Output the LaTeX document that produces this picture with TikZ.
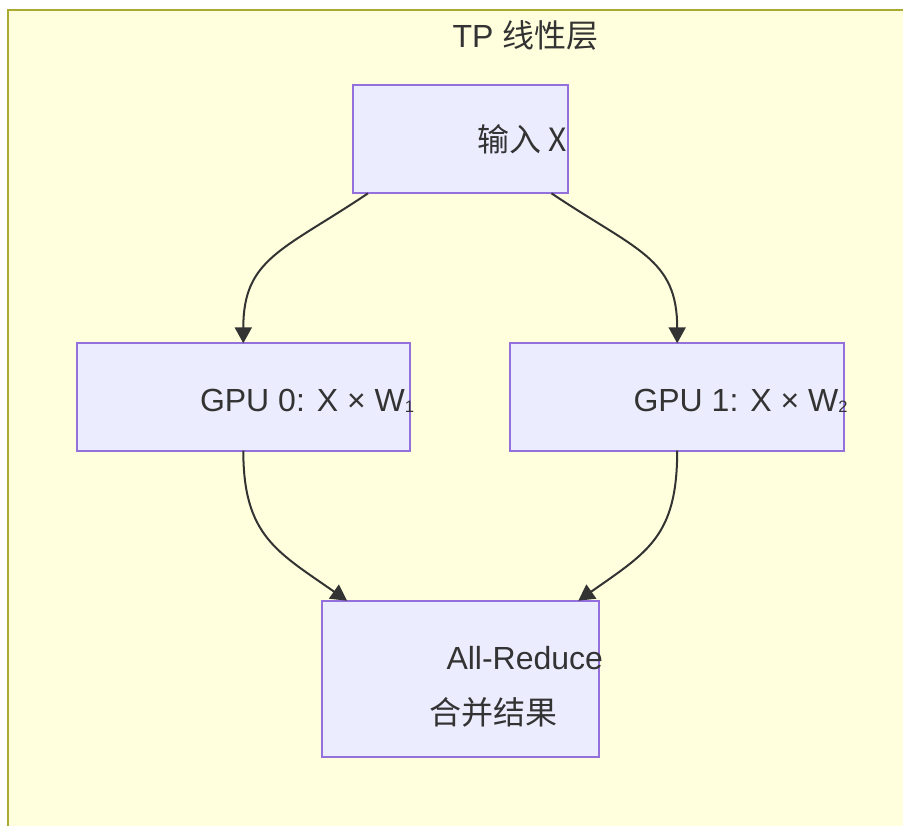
\documentclass[tikz,border=0pt]{standalone}
\usepackage{fontspec}
\setmainfont{Liberation Sans}
\newfontfamily\cjk{Noto Sans CJK SC}
\usetikzlibrary{arrows.meta}

\definecolor{clusterfill}{HTML}{FFFFDE}
\definecolor{clusterline}{HTML}{AAAA33}
\definecolor{boxfill}{HTML}{ECECFF}
\definecolor{boxline}{HTML}{9370DB}
\definecolor{ink}{HTML}{333333}

\newcommand{\sub}[1]{{\fontsize{16.5}{16.5}\selectfont\raisebox{-1.5pt}{#1}}}

\tikzset{
  procbox/.style={draw=boxline, fill=boxfill, line width=2pt,
    rectangle, inner sep=0pt, outer sep=0pt},
  label/.style={anchor=base west, inner sep=0pt, outer sep=0pt, text=ink,
    font=\fontsize{32}{38}\selectfont},
  flow/.style={draw=ink, line width=2pt,
    -{Triangle[length=16pt,width=17pt]}},
}

\begin{document}
\begin{tikzpicture}[x=1pt, y=-1pt]
  \useasboundingbox (0,0) rectangle (903,826);
  \clip (0,0) rectangle (903,826);

  % subgraph frame
  \draw[fill=clusterfill, draw=clusterline, line width=2pt]
    (7.5,10.5) rectangle (930,860);
  \node[label] (title) at (452.5,48) {TP \cjk{线性层}};

  % process boxes
  \node[procbox, minimum width=214.4pt, minimum height=108.3pt] (inp) at (460.5,139.2) {};
  \node[procbox, minimum width=333.3pt, minimum height=107.4pt] (g0) at (243.3,397) {};
  \node[procbox, minimum width=334.3pt, minimum height=107.4pt] (g1) at (677.2,397) {};
  \node[procbox, minimum width=276.7pt, minimum height=156pt] (ar) at (460.3,678.7) {};

  % box texts
  \node[label] (tinp) at (477,152) {\cjk{输入} X};
  \node[label] (tg0) at (200,411.5) {GPU 0: X × W\sub{1}};
  \node[label] (tg1) at (633.5,411.5) {GPU 1: X × W\sub{2}};
  \node[label] (tar1) at (446.5,669) {All-Reduce};
  \node[label] (tar2) at (429,724.5) {\cjk{合并结果}};

  % connectors
  \draw[flow] ([xshift=-92.5pt]inp.south) .. controls +(-85,57) and +(0,-85) .. (g0.north);
  \draw[flow] ([xshift=91pt]inp.south) .. controls +(85,57) and +(0,-85) .. (g1.north);
  \draw[flow] (g0.south) .. controls +(0,85) and +(-70,-49) .. ([xshift=-113.3pt]ar.north);
  \draw[flow] (g1.south) .. controls +(0,85) and +(70,-49) .. ([xshift=118pt]ar.north);
\end{tikzpicture}
\end{document}
